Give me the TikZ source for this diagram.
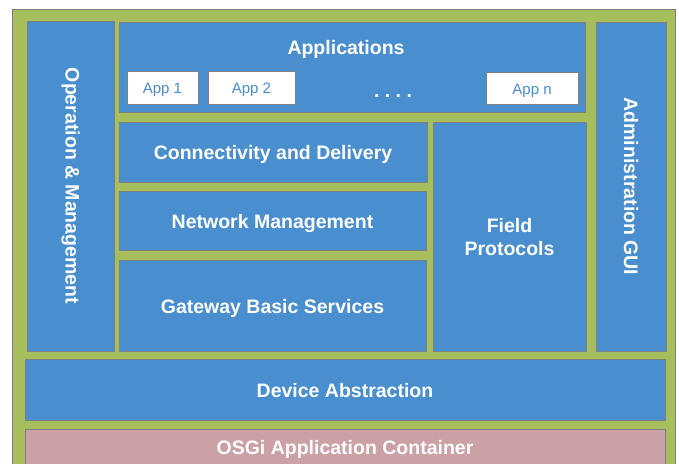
\documentclass[tikz,border=0pt]{standalone}
\usepackage{fontspec}
\setmainfont{Liberation Sans}
\definecolor{blk}{HTML}{498ECE}
\definecolor{grn}{HTML}{A6BE5B}
\definecolor{osg}{HTML}{CBA1A6}
\definecolor{edge}{HTML}{7F7F7F}
\begin{document}
\begin{tikzpicture}[x=1pt,y=-1pt,
  blkbox/.style={draw=edge, line width=0.9pt, fill=blk, inner sep=0pt, text=white,
    font=\fontsize{19.5}{23}\selectfont\bfseries, align=center, text height=15.5pt, text depth=0pt},
  appbox/.style={draw=edge, line width=0.9pt, fill=white, inner sep=0pt, text=blk,
    font=\fontsize{15}{18}\selectfont, text height=12pt, text depth=0pt},
  lbl/.style={text=white, font=\fontsize{19.5}{23}\selectfont\bfseries, align=center, inner sep=0pt}]
\useasboundingbox (0,0) rectangle (679,463);
\clip (0,0) rectangle (679,463);
\fill[white] (0,0) rectangle (679,463);
\node[draw=edge, line width=1pt, fill=grn, minimum width=663, minimum height=461, inner sep=0pt] (outer) at (343.5,239.5) {};
\node[blkbox, minimum width=87, minimum height=330] (om) at (70.5,186) {};
\node[lbl, rotate=-90] (omt) at (om.center) {Operation \& Management};
\node[blkbox, minimum width=466, minimum height=90] (apps) at (352,67) {};
\node[lbl] (appst) at (346,49) {Applications};
\node[appbox, minimum width=71, minimum height=33] (app1) at (162.5,87.5) {App 1};
\node[appbox, minimum width=87, minimum height=33] (app2) at (251.5,87.5) {App 2};
\node[appbox, minimum width=92, minimum height=32] (appn) at (532,88) {App n};
\node[lbl] (dots) at (393,96) {.\ .\ .\ .};
\node[blkbox, minimum width=70, minimum height=329] (admin) at (631,186.5) {};
\node[lbl, rotate=-90] (admint) at (admin.center) {Administration GUI};
\node[blkbox, minimum width=308, minimum height=60] (conn) at (273,152) {Connectivity and Delivery};
\node[blkbox, minimum width=307, minimum height=59] (net) at (272.5,220.5) {Network Management};
\node[blkbox, minimum width=307, minimum height=91] (gbs) at (272.5,305.5) {Gateway Basic Services};
\node[blkbox, text height=38.5pt, minimum width=153, minimum height=229] (field) at (509.5,236.5) {Field\\Protocols};
\node[blkbox, minimum width=640, minimum height=61] (dev) at (345,389.5) {Device Abstraction};
\node[blkbox, fill=osg, minimum width=640, minimum height=36] (osgi) at (345,447) {OSGi Application Container};
\end{tikzpicture}
\end{document}
